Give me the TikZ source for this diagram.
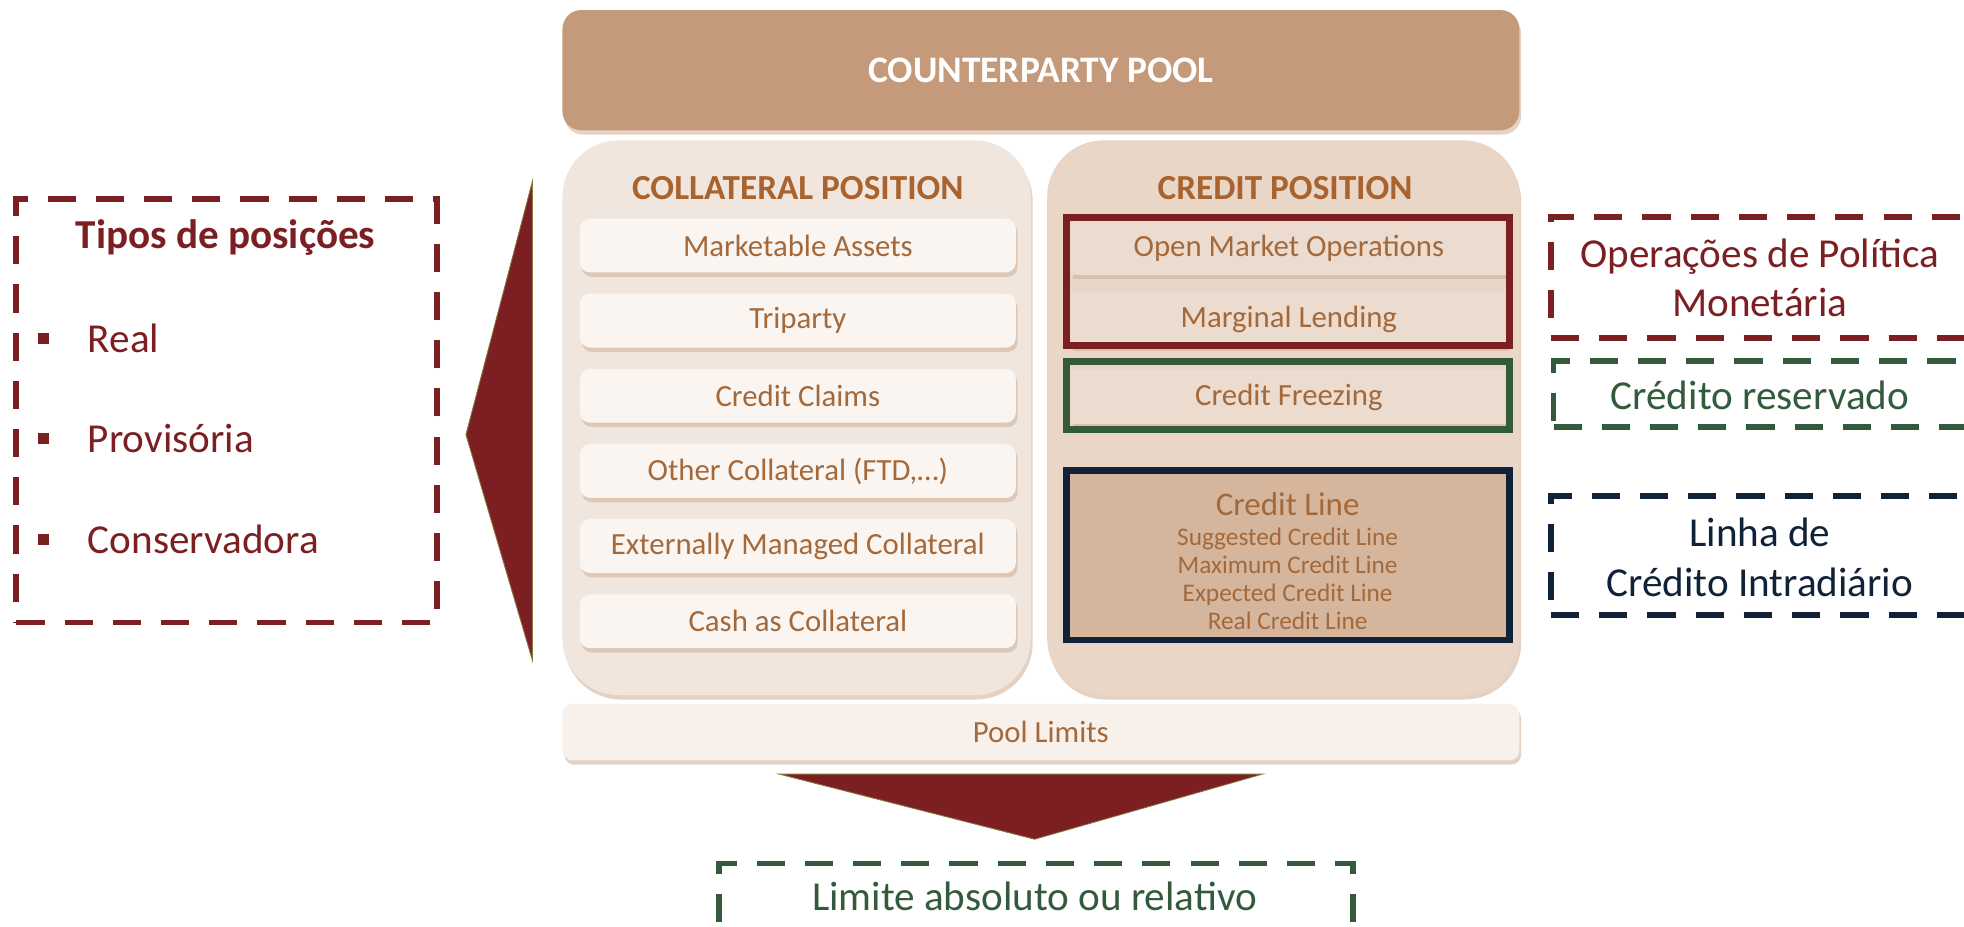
\documentclass[tikz,border=0pt]{standalone}
\usepackage{fontspec}
\setmainfont{Carlito}
\usetikzlibrary{shadows}

\definecolor{poolbrown}{HTML}{C49A7B}
\definecolor{colpanel}{HTML}{F1E6DE}
\definecolor{credpanel}{HTML}{E9D6C7}
\definecolor{itembg}{HTML}{FAF5F1}
\definecolor{credbg}{HTML}{ECDCCF}
\definecolor{linebg}{HTML}{D5B59C}
\definecolor{headtxt}{HTML}{A8632E}
\definecolor{itemtxt}{HTML}{A3693B}
\definecolor{maroon}{HTML}{7B1F22}
\definecolor{darkgreen}{HTML}{335A3B}
\definecolor{navy}{HTML}{0F2237}
\definecolor{shade}{HTML}{CFAE95}
\definecolor{olivegold}{HTML}{8A7440}

\tikzset{
  softshadow/.style={drop shadow={fill=shade, opacity=0.55, shadow xshift=0.03cm, shadow yshift=-0.07cm}},
  poolbox/.style={fill=poolbrown, rounded corners=0.3cm, minimum width=15.28cm, minimum height=1.92cm,
    text=white, font=\fontsize{17}{19}\selectfont\bfseries, softshadow},
  panel/.style={rounded corners=0.9cm, minimum width=#1, minimum height=8.86cm, softshadow},
  headtext/.style={text=headtxt, font=\fontsize{16}{18}\selectfont\bfseries},
  colitem/.style={fill=itembg, rounded corners=0.16cm, minimum width=6.96cm, minimum height=0.86cm,
    text=itemtxt, softshadow},
  creditem/.style={fill=credbg, minimum width=6.96cm, minimum height=0.86cm, text=itemtxt, softshadow},
  frame/.style={line width=3pt},
  notebox/.style={line width=2.6pt, dash pattern=on 0.45cm off 0.32cm},
  annot/.style={font=\fontsize{18.7}{22.5}\selectfont, align=center},
  arrowfill/.style={fill=maroon, draw=olivegold, line width=0.4pt}
}

\begin{document}
\begin{tikzpicture}[x=0.02cm, y=-0.02cm, font=\fontsize{14}{16}\selectfont]
  \clip (0,0) rectangle (1568,740);
  \fill[white] (0,0) rectangle (1568,740);

  % pool and positions
  \node[poolbox] (pool) at (831,56) {COUNTERPARTY POOL};
  \node[panel=7.48cm, fill=colpanel] (colpos) at (636,333.5) {};
  \node[panel=7.54cm, fill=credpanel] (credpos) at (1024.5,333.5) {};
  \node[headtext] (colhead) at (637,150) {COLLATERAL POSITION};
  \node[headtext] (credhead) at (1026,150) {CREDIT POSITION};

  \foreach \txt [count=\i] in {Marketable Assets, Triparty, Credit Claims, {Other Collateral (FTD,…)},
      Externally Managed Collateral, Cash as Collateral}
    \node[colitem] (col\i) at (637,136+60*\i) {\txt};

  \node[creditem] (omo) at (1029,198) {Open Market Operations};
  \node[creditem] (marg) at (1029,255) {Marginal Lending};
  \node[creditem] (freeze) at (1029,317) {Credit Freezing};
  \node[fill=linebg, minimum width=7cm, minimum height=2.64cm, softshadow] (cline) at (1028,444) {};
  \node[text=itemtxt, align=center, font=\fontsize{11.5}{12.8}\selectfont] (clinetext) at (1028,448)
    {{\fontsize{15}{17}\selectfont Credit Line}\\[1pt]
     Suggested Credit Line\\ Maximum Credit Line\\
     Expected Credit Line\\ Real Credit Line};

  \draw[frame, maroon] (851.5,173.5) rectangle (1205,276);
  \draw[frame, darkgreen] (851.5,288.5) rectangle (1205,343);
  \draw[frame, navy] (851.5,375.5) rectangle (1205,511);

  \node[colitem, minimum width=15.28cm, minimum height=0.9cm, fill=itembg!70!colpanel] (limits) at (831,584.5) {Pool Limits};

  % arrows
  \coordinate (ltop) at (425,145);
  \coordinate (lbot) at (425,527);
  \coordinate (ltip) at (372,347);
  \filldraw[arrowfill] (ltop) -- (ltip) -- (lbot) -- cycle;
  \coordinate (dleft) at (622,618);
  \coordinate (dright) at (1008,618);
  \coordinate (dtip) at (826,670);
  \filldraw[arrowfill] (dleft) -- (dright) -- (dtip) -- cycle;

  % notes
  \node[notebox, draw=maroon, minimum width=6.72cm, minimum height=6.76cm] (tipos) at (181,328) {};
  \node[text=maroon, font=\fontsize{18.7}{20}\selectfont\bfseries] (tiposhead) at (180,190) {Tipos de posições};
  \foreach \txt/\yy [count=\i] in {Real/270, Provisória/350, Conservadora/431} {
    \fill[maroon] (30,\yy-4.5) rectangle +(9,9);
    \node[annot, anchor=west, text=maroon] (tipo\i) at (64,\yy) {\txt};
  }

  \node[notebox, draw=maroon, minimum width=7.3cm, minimum height=1.94cm, anchor=west] (opbox) at (1236,221.5) {};
  \node[annot, text=maroon] (optext) at (1405,222) {Operações de Política\\Monetária};
  \node[notebox, draw=darkgreen, minimum width=7.3cm, minimum height=1.06cm, anchor=west] (resbox) at (1238,314.5) {};
  \node[annot, text=darkgreen] (restext) at (1405,316) {Crédito reservado};
  \node[notebox, draw=navy, minimum width=7.3cm, minimum height=1.9cm, anchor=west] (intrabox) at (1236,443.5) {};
  \node[annot, text=navy] (intratext) at (1405,445) {Linha de\\Crédito Intradiário};

  \node[notebox, draw=darkgreen, minimum width=10.12cm, minimum height=1.6cm, anchor=north] (limbox) at (827,687) {};
  \node[annot, text=darkgreen] (limtext) at (826,716) {Limite absoluto ou relativo};
\end{tikzpicture}
\end{document}
